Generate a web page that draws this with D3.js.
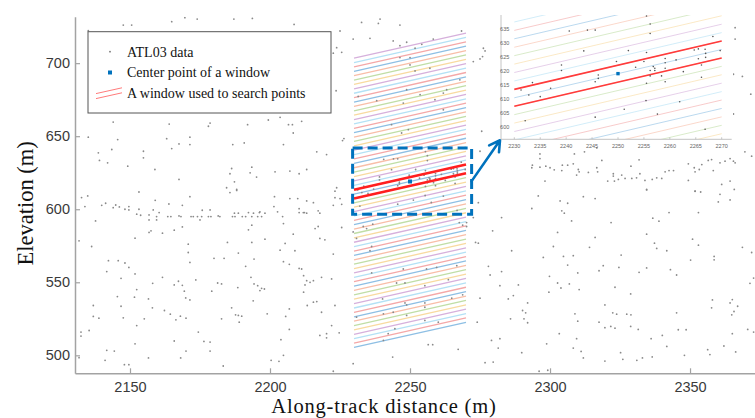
<!DOCTYPE html>
<html>
<head>
<meta charset="utf-8">
<script src="https://cdn.jsdelivr.net/npm/d3@7"></script>
<style>
  body { margin: 0; background: #fff; }
  svg { display: block; }
</style>
</head>
<body>
<div id="chart"></div>
<script>
// tick values
const xTicks = [2150, 2200, 2250, 2300, 2350];
const yTicks = [500, 550, 600, 650, 700];
const insetXTicks = [2230, 2235, 2240, 2245, 2250, 2255, 2260, 2265, 2270];
const insetYTicks = [600, 605, 610, 615, 620, 625, 630, 635];

const legendLabels = ['ATL03 data', 'Center point of a window', 'A window used to search points'];

// search window: center point, half height, slope and along-track extent
const windowCenter = [2250, 619];
const windowHalfHeight = 3;
const windowSlope = 0.43;
const windowExtent = [2230, 2270];
// elevation (at x = 2250) of every window boundary line
const windowLevels = [514, 517, 520, 523, 526, 529, 532, 535, 538, 541, 544, 547, 550, 553, 556, 559,
  562, 565, 568, 571, 574, 577, 580, 583, 586, 589, 592, 595, 598, 601, 604, 607, 610, 613, 616, 619,
  622, 625, 628, 631, 634, 637, 640, 643, 646, 649, 652, 655, 658, 661, 664, 667, 670, 673, 676, 679,
  682, 685, 688, 691, 694, 697, 700, 703, 706, 709, 712];

// zoomed area (dashed box)
const zoomBoxX = [2229.5, 2272];
const zoomBoxY = [596.5, 642];

// ATL03 photons [along-track distance, elevation]
const atl03Points = [
  [2147.6,726.1],[2150.6,726.1],[2164.9,728.4],[2169.6,731.1],[2174.0,730.2],[2187.1,730.2],[2193.7,730.6],
  [2208.6,726.5],[2135.1,722.2],[2144.0,659.7],[2164.0,658.3],[2178.6,659.0],[2178.0,656.8],[2192.0,657.9],
  [2199.4,661.1],[2203.6,662.9],[2206.6,657.9],[2208.0,657.9],[2211.3,660.2],[2208.3,652.2],[2135.1,649.3],
  [2145.6,647.7],[2163.1,648.3],[2171.4,649.3],[2171.4,644.3],[2167.5,644.7],[2164.9,641.5],[2186.7,644.3],
  [2190.8,645.4],[2204.8,644.3],[2138.7,638.6],[2143.5,640.9],[2154.8,639.7],[2154.8,635.2],[2139.1,633.4],
  [2142.0,631.8],[2149.2,629.5],[2158.9,627.2],[2186.3,627.9],[2193.5,628.8],[2192.9,624.9],[2195.2,622.0],
  [2185.7,624.3],[2201.8,625.6],[2207.1,626.1],[2210.4,624.3],[2167.5,620.4],[2187.3,618.8],[2184.5,614.7],
  [2188.1,613.6],
  [2132.7,608.0],[2134.9,609.1],[2133.9,601.8],[2139.9,602.7],[2141.3,604.1],[2144.0,601.1],[2144.9,602.9],
  [2146.2,601.6],[2148.2,600.0],[2149.6,601.8],[2149.6,599.5],[2153.2,611.8],[2153.2,600.0],[2152.4,596.6],
  [2153.8,595.9],[2156.8,596.1],[2156.8,592.7],[2158.3,599.5],[2159.5,595.0],[2159.5,592.7],[2160.4,597.7],
  [2159.0,606.1],[2163.5,595.0],[2164.6,595.0],[2163.9,603.6],[2167.5,595.4],[2168.2,595.0],[2168.7,602.7],
  [2171.8,595.0],[2172.6,595.0],[2171.4,608.6],[2174.1,595.0],[2175.6,595.0],[2175.0,592.7],[2175.8,599.3],
  [2178.0,595.0],[2178.9,595.0],[2178.6,599.5],[2181.5,595.4],[2182.1,595.0],[2185.7,611.4],[2188.1,612.9],
  [2186.6,595.0],[2187.5,595.0],[2187.3,597.3],[2188.7,597.3],[2190.1,595.0],[2191.3,595.0],[2192.3,597.7],
  [2193.5,595.0],[2194.1,597.3],[2195.6,595.0],[2196.2,597.7],[2197.0,595.0],[2198.2,597.3],[2196.4,598.2],
  [2201.6,608.6],[2201.4,601.8],[2202.7,598.2],[2204.5,595.0],[2204.8,590.2],[2207.1,607.3],[2209.9,607.3],
  [2210.4,600.4],[2210.4,597.7],[2212.3,597.7],[2137.7,592.0],[2168.7,587.9],[2165.8,585.7],[2161.6,583.6],
  [2156.8,584.1],[2157.5,585.2],[2192.3,585.9],[2193.5,589.1],[2131.8,578.4],[2151.8,580.2],[2170.8,576.1],
  [2170.8,570.4],[2171.4,563.6],[2136.3,574.5],[2184.8,577.3],[2188.7,570.0],[2193.5,577.3],[2198.2,579.5],
  [2208.3,582.9],[2203.6,572.0],[2205.4,576.6],[2208.9,571.6],[2142.3,564.8],[2145.8,564.8],[2148.2,563.2],
  [2149.6,560.2],[2141.7,557.3],[2151.8,555.7],[2146.8,552.7],[2161.6,553.4],[2158.1,549.3],[2165.8,548.2],
  [2167.3,550.7],[2168.7,547.9],[2169.4,543.9],[2169.9,539.3],[2171.4,537.9],[2173.5,551.6],[2179.2,543.9],
  [2180.0,566.4],[2183.6,566.4],[2181.3,549.5],[2182.7,548.9],[2191.3,560.9],[2194.3,565.9],[2193.2,553.4],
  [2194.3,548.9],[2195.6,547.7],[2196.4,544.3],[2197.0,545.9],[2198.0,545.4],[2188.5,546.4],[2194.0,537.3],
  [2204.8,564.1],[2206.9,562.3],[2210.4,559.5],[2212.0,554.5],[2212.0,543.2],[2145.5,540.2],[2152.4,545.0],
  [2151.6,539.8],[2136.9,534.1],[2146.8,533.6],[2156.6,538.6],[2158.0,532.5],[2162.3,530.7],[2164.4,528.2],
  [2166.4,524.3],[2168.0,526.8],[2170.0,525.4],[2136.9,526.6],[2138.9,525.4],[2147.6,525.7],[2155.1,525.0],
  [2152.4,520.4],[2186.3,532.5],[2187.7,527.7],[2188.7,527.3],[2189.9,526.8],[2189.0,522.7],[2182.7,525.0],
  [2199.0,528.4],[2205.6,526.6],[2206.9,531.8],[2206.9,517.7],[2132.5,515.9],[2132.5,513.2],[2135.4,517.0],
  [2174.4,515.9],[2176.4,509.5],[2178.6,509.1],[2178.6,502.9],[2165.8,509.8],[2170.0,502.9],[2151.8,507.9],
  [2141.7,503.4],[2144.4,502.9],[2131.8,498.4],[2141.1,496.6],[2148.0,493.6],[2149.6,493.6],[2156.6,498.2],
  [2168.1,498.2],[2183.3,492.7],[2200.4,496.6],[2203.9,510.7],[2204.8,500.0],[2203.2,495.9],
  [2232.7,727.9],[2239.3,730.2],[2238.7,727.2],[2246.4,726.1],[2225.0,722.0],[2223.8,710.6],[2222.6,706.8],
  [2225.6,707.4],[2229.7,716.5],[2235.7,717.0],[2244.0,715.2],[2246.4,712.0],[2248.8,714.3],[2251.8,710.2],
  [2254.2,712.9],[2268.4,722.0],[2258.3,716.5],[2276.2,710.2],[2276.8,708.4],[2275.9,704.5],[2275.0,702.9],
  [2272.6,701.1],[2223.6,681.1],[2225.9,647.0],[2226.4,648.4],[2216.7,639.3],[2220.2,637.4],[2213.1,627.2],
  [2223.8,614.7],[2223.2,612.4],[2275.6,653.4],[2275.0,639.7],[2246.4,703.8],[2250.0,703.8],[2250.0,698.8],
  [2251.8,694.7],[2257.1,696.5],[2267.8,688.6],[2248.8,681.8],[2253.6,678.4],[2261.9,679.5],[2263.1,681.8],
  [2258.9,675.0],[2247.6,672.7],[2238.1,674.3],[2261.9,668.1],[2243.4,657.9],[2249.4,654.5],[2247.0,652.2],
  [2231.5,677.2],
  [2213.1,605.7],[2215.5,604.5],[2211.9,597.7],[2213.1,597.3],[2217.2,598.9],[2217.8,597.3],[2222.6,602.7],
  [2223.2,607.9],[2225.0,607.3],[2225.6,603.4],[2216.1,586.8],[2217.2,588.2],[2217.8,580.0],[2219.6,579.1],
  [2225.6,587.5],[2222.6,569.3],[2211.3,559.1],[2213.1,551.1],[2214.3,550.0],[2215.5,551.1],[2218.4,553.4],
  [2222.0,552.3],[2212.5,548.2],[2215.5,536.4],[2216.7,536.8],[2213.3,534.1],[2223.2,534.1],[2218.4,529.5],
  [2222.0,520.4],[2217.8,513.6],[2220.2,514.8],[2220.2,512.0],[2224.7,515.4],[2229.7,494.3],[2229.7,584.5],
  [2233.3,588.2],[2234.5,586.8],[2236.7,589.8],[2230.9,580.0],[2236.3,574.5],[2235.7,571.6],[2247.6,559.1],
  [2255.9,559.1],[2259.5,560.2],[2266.7,561.4],[2236.3,556.4],[2245.2,549.5],[2248.2,549.5],[2255.3,547.7],
  [2263.7,551.8],[2240.2,538.6],[2248.2,535.9],[2248.8,534.5],[2255.3,535.9],[2264.9,539.1],[2268.8,541.4],
  [2240.5,528.4],[2244.0,529.5],[2248.8,527.3],[2255.3,532.9],[2255.3,523.9],[2260.1,522.7],[2230.9,526.1],
  [2244.6,518.2],[2242.2,514.8],[2240.5,510.2],[2267.6,590.9],[2268.8,589.1],[2274.4,604.5],[2272.6,594.3],
  [2270.2,590.9],[2270.2,588.2],[2273.4,577.3],[2274.4,576.8],[2282.7,594.3],[2279.5,585.2],[2286.3,571.6],
  [2278.0,560.9],[2282.7,557.3],[2278.6,555.0],[2288.7,548.2],[2282.1,547.7],[2286.9,540.9],[2285.1,538.6],
  [2275.0,539.1],[2290.2,530.7],[2285.9,525.0],[2290.7,525.0],[2274.0,522.7],[2279.1,510.2],[2282.1,511.4],
  [2256.5,507.3],[2258.1,507.3],[2267.2,504.1],[2279.7,495.4],[2276.8,495.0],[2289.9,501.8],[2281.5,505.0],
  [2243.8,498.8],[2222.6,489.1],
  [2366.1,724.3],[2366.1,716.5],[2365.5,692.4],[2368.7,690.9],[2371.7,678.8],[2365.5,665.2],[2296.4,637.9],
  [2296.4,634.7],[2293.7,630.2],[2293.5,628.4],[2296.4,628.8],[2298.5,629.5],[2300.0,628.4],[2301.5,627.0],
  [2304.4,630.2],[2304.2,626.5],[2306.3,630.2],[2308.3,631.1],[2308.7,637.9],[2310.1,627.2],[2310.4,625.6],
  [2309.5,623.4],[2312.3,639.3],[2313.7,625.2],[2316.7,642.0],[2316.7,628.4],[2317.0,625.6],[2318.5,633.4],
  [2320.6,619.3],[2322.6,624.3],[2322.6,622.7],[2323.0,619.3],[2324.4,620.4],[2325.6,623.4],[2326.8,621.1],
  [2328.9,629.5],[2331.8,633.8],[2329.2,621.1],[2330.9,621.5],[2332.1,624.3],[2333.9,619.7],[2334.5,613.6],
  [2336.5,620.4],[2338.1,621.5],[2339.9,621.1],[2341.1,625.6],[2342.5,626.5],[2344.1,626.5],[2349.4,631.1],
  [2349.4,619.7],[2351.5,628.4],[2351.8,625.6],[2353.3,627.2],[2354.2,630.6],[2356.5,633.4],[2357.7,634.0],
  [2358.3,626.5],[2360.7,631.8],[2362.5,632.9],[2364.3,634.7],[2365.5,632.9],[2366.1,631.8],[2369.6,639.3],
  [2372.0,636.3],[2351.8,612.4],[2361.3,617.0],[2364.3,619.3],[2365.8,613.6],[2298.2,619.3],
  [2295.8,609.1],[2293.5,600.5],[2303.6,605.7],[2306.3,604.1],[2304.2,598.9],[2305.1,597.3],[2307.7,592.0],
  [2311.9,608.6],[2316.1,607.3],[2302.7,584.1],[2301.2,574.5],[2297.6,567.0],[2304.8,567.7],[2308.3,568.2],
  [2306.3,561.8],[2309.9,556.4],[2299.8,554.1],[2302.7,549.5],[2303.9,546.1],[2306.9,548.9],[2310.4,545.0],
  [2299.6,543.2],[2314.1,573.9],[2316.1,580.7],[2321.8,590.9],[2325.4,568.6],[2324.6,560.2],[2319.0,561.4],
  [2317.5,557.9],[2323.2,546.6],[2328.8,542.0],[2319.6,534.5],[2292.0,535.9],[2291.3,529.1],[2292.0,522.3],
  [2308.9,528.4],[2309.9,523.4],[2303.3,514.8],[2309.5,511.4],[2308.3,505.0],[2311.1,502.7],[2311.9,498.2],
  [2298.8,507.9],[2317.5,522.7],[2319.6,518.9],[2321.7,519.8],[2323.2,518.6],[2322.4,529.1],[2323.8,528.2],
  [2327.4,528.2],[2328.9,527.7],[2328.8,519.8],[2331.5,517.7],[2331.8,556.8],[2334.5,559.8],[2334.5,582.9],
  [2337.3,576.8],[2338.1,573.2],[2341.7,571.6],[2336.7,593.9],[2338.9,591.8],[2342.5,597.7],[2334.5,613.2],
  [2343.0,558.6],[2345.2,555.0],[2345.2,529.1],[2345.8,517.5],[2348.6,517.5],[2340.1,513.6],[2336.1,511.4],
  [2341.7,506.1],[2325.2,501.8],[2326.0,497.3],[2319.6,496.1],[2331.0,496.6],[2333.0,498.2],[2336.5,498.9],
  [2348.0,500.0],[2350.2,565.2],[2350.9,579.5],[2353.0,575.4],[2353.0,597.7],[2351.8,612.3],[2353.8,611.8],
  [2360.7,610.2],[2360.1,605.0],[2364.3,606.4],[2358.6,567.7],[2358.6,565.4],[2368.7,573.9],[2372.0,570.4],
  [2372.7,552.9],[2371.4,549.3],[2358.0,537.9],[2357.7,532.5],[2364.3,535.9],[2365.1,538.2],[2367.0,533.6],
  [2365.7,530.0],[2364.9,527.7],[2365.1,514.8],[2370.6,517.7],[2372.7,515.9],[2362.1,506.4],[2356.3,503.9],
  [2357.1,500.5],[2366.3,502.3],[2296.1,489.1],[2299.2,489.8],
  // photons inside the zoomed window
  [2255.5,639.5],[2256.2,636.7],[2256.2,633.3],[2240.6,634.2],[2244.1,634.5],[2245.6,634.5],[2243.4,627.1],
  [2252.0,627.2],[2249.7,623.3],[2255.5,626.5],[2268.3,632.2],[2266.8,627.7],[2265.5,627.8],[2264.7,627.4],
  [2266.9,626.2],[2266.9,624.8],[2266.1,622.1],[2265.5,624.3],[2261.2,623.9],[2259.1,624.4],[2259.1,622.9],
  [2259.1,620.9],[2257.1,620.9],[2256.8,621.5],[2257.1,620.1],[2255.0,623.3],[2253.4,621.3],[2256.2,620.1],
  [2256.2,618.2],[2258.4,618.2],[2259.1,616.1],[2255.5,615.6],[2262.6,619.7],[2239.1,622.1],[2239.1,620.1],
  [2246.2,618.5],[2246.2,617.3],[2245.6,616.1],[2237.0,613.8],[2233.5,615.8],[2231.3,613.2],[2232.8,611.4],
  [2235.0,610.8],[2232.1,602.2],[2245.6,603.5],[2251.2,606.3],[2255.4,609.4],[2257.6,604.6],[2261.9,609.0],
  [2266.1,617.7],[2266.8,599.2],[2269.7,627.2]
];

const lineColors = ['#8ebfe4', '#f4a8a8', '#b4e1f5', '#d6b0dc', '#f8daa0', '#c0dea6', '#f8bea8'];

const width = 755, height = 418;
const svg = d3.select('#chart').append('svg').attr('width', width).attr('height', height);

const x = d3.scaleLinear().domain([2130.36, 2373.2]).range([75, 755]);
const y = d3.scaleLinear().domain([487.7, 731.8]).range([373.3, 16.7]);

svg.append('clipPath').attr('id', 'plot-clip')
  .append('rect').attr('x', 75).attr('y', 16.7).attr('width', 680).attr('height', 356.6);

// end points of one window boundary line
const boundary = (level) => windowExtent.map(d => [d, level + windowSlope * (d - windowCenter[0])]);
const redLevels = [windowCenter[1] + windowHalfHeight, windowCenter[1] - windowHalfHeight];

const plot = svg.append('g').attr('clip-path', 'url(#plot-clip)');

const mainLine = d3.line().x(d => x(d[0])).y(d => y(d[1]));

plot.selectAll('.stripe')
  .data(windowLevels)
  .join('path')
  .attr('class', 'stripe')
  .attr('d', d => mainLine(boundary(d)))
  .attr('stroke', (d, i) => lineColors[i % lineColors.length])
  .attr('stroke-width', 1.3)
  .attr('fill', 'none');

plot.selectAll('.photon')
  .data(atl03Points)
  .join('circle')
  .attr('class', 'photon')
  .attr('cx', d => x(d[0]))
  .attr('cy', d => y(d[1]))
  .attr('r', 0.9)
  .attr('fill', '#8a8a8a');

plot.selectAll('.red-window')
  .data(redLevels)
  .join('path')
  .attr('class', 'red-window')
  .attr('d', d => mainLine(boundary(d)))
  .attr('stroke', '#ff1f1f')
  .attr('stroke-width', 2.6)
  .attr('fill', 'none');

plot.append('rect')
  .attr('x', x(windowCenter[0]) - 2).attr('y', y(windowCenter[1]) - 2)
  .attr('width', 4).attr('height', 4)
  .attr('fill', '#0072BD');

// dashed box around the zoomed window
svg.append('rect')
  .attr('x', x(zoomBoxX[0])).attr('y', y(zoomBoxY[1]))
  .attr('width', x(zoomBoxX[1]) - x(zoomBoxX[0]))
  .attr('height', y(zoomBoxY[0]) - y(zoomBoxY[1]))
  .attr('fill', 'none')
  .attr('stroke', '#0072BD')
  .attr('stroke-width', 3)
  .attr('stroke-dasharray', '10,5');

// axes
const xAxis = svg.append('g')
  .attr('transform', 'translate(0,373.3)')
  .call(d3.axisBottom(x).tickValues(xTicks).tickFormat(d3.format('d'))
    .tickSizeInner(-5).tickSizeOuter(0).tickPadding(8.5));
const yAxis = svg.append('g')
  .attr('transform', 'translate(75,0)')
  .call(d3.axisLeft(y).tickValues(yTicks).tickFormat(d3.format('d'))
    .tickSizeInner(-5).tickSizeOuter(0).tickPadding(5));

[xAxis, yAxis].forEach(g => {
  g.select('.domain').attr('stroke', '#a3a3a3').attr('stroke-width', 1.5);
  g.selectAll('.tick line').attr('stroke', '#a3a3a3').attr('stroke-width', 1.2);
  g.selectAll('.tick text')
    .attr('fill', '#3a3a3a')
    .style('font-family', '"Liberation Sans", Arial, sans-serif')
    .style('font-size', '14.5px');
});

svg.append('text')
  .attr('x', 384).attr('y', 413.2)
  .attr('text-anchor', 'middle')
  .style('font-family', '"Liberation Serif", "Times New Roman", serif')
  .style('font-size', '20.5px')
  .style('letter-spacing', '0.8px')
  .attr('fill', '#111')
  .text('Along-track distance (m)');

svg.append('text')
  .attr('transform', 'translate(33,203.4) rotate(-90)')
  .attr('text-anchor', 'middle')
  .style('font-family', '"Liberation Serif", "Times New Roman", serif')
  .style('font-size', '22.5px')
  .attr('fill', '#111')
  .text('Elevation (m)');

// legend
const legend = svg.append('g');
legend.append('rect')
  .attr('x', 88).attr('y', 31.7).attr('width', 243).attr('height', 81.3)
  .attr('fill', '#fff').attr('stroke', '#555').attr('stroke-width', 1);

const legendY = [51.7, 72.5, 93.3];
legend.selectAll('.legend-label')
  .data(legendLabels)
  .join('text')
  .attr('class', 'legend-label')
  .attr('x', 127)
  .attr('y', (d, i) => legendY[i])
  .attr('dy', '0.35em')
  .style('font-family', '"Liberation Serif", "Times New Roman", serif')
  .style('font-size', '14px')
  .attr('fill', '#111')
  .text(d => d);

legend.append('circle').attr('cx', 110).attr('cy', legendY[0]).attr('r', 0.9).attr('fill', '#777');
legend.append('rect').attr('x', 108).attr('y', legendY[1] - 2).attr('width', 4).attr('height', 4).attr('fill', '#0072BD');
[-2.6, 2.4].forEach(off => {
  legend.append('line')
    .attr('x1', 96).attr('y1', legendY[2] + off + 2.9)
    .attr('x2', 122).attr('y2', legendY[2] + off - 2.9)
    .attr('stroke', '#ff7b7b').attr('stroke-width', 1);
});

// inset: zoomed view of the window
const inset = { left: 501, right: 731.7, top: 15, bottom: 139.3 };
const ix = d3.scaleLinear().domain([2230, 2270]).range([514.3, 721.7]);
const iy = d3.scaleLinear().domain([600, 635]).range([127, 28.7]);
const insetLine = d3.line().x(d => ix(d[0])).y(d => iy(d[1]));

const insetG = svg.append('g');
insetG.append('rect')
  .attr('x', 497).attr('y', 8).attr('width', 236).attr('height', inset.bottom - 8)
  .attr('fill', '#fff');

svg.append('clipPath').attr('id', 'inset-clip')
  .append('rect')
  .attr('x', ix(windowExtent[0]) - 1).attr('y', inset.top)
  .attr('width', ix(windowExtent[1]) - ix(windowExtent[0]) + 2)
  .attr('height', inset.bottom - inset.top);

const insetPlot = insetG.append('g').attr('clip-path', 'url(#inset-clip)');
insetPlot.selectAll('.istripe')
  .data(windowLevels)
  .join('path')
  .attr('class', 'istripe')
  .attr('d', d => insetLine(boundary(d)))
  .attr('stroke', (d, i) => lineColors[i % lineColors.length])
  .attr('stroke-opacity', 0.6)
  .attr('stroke-width', 1)
  .attr('fill', 'none');

insetPlot.selectAll('.ired')
  .data(redLevels)
  .join('path')
  .attr('class', 'ired')
  .attr('d', d => insetLine(boundary(d)))
  .attr('stroke', '#ff3b3b')
  .attr('stroke-width', 1.6)
  .attr('fill', 'none');

const insetDots = atl03Points.filter(d => {
  const px = ix(d[0]), py = iy(d[1]);
  return px > inset.left + 2 && px < inset.right && py > inset.top && py < inset.bottom - 1;
});
insetG.selectAll('.iphoton')
  .data(insetDots)
  .join('circle')
  .attr('class', 'iphoton')
  .attr('cx', d => ix(d[0]))
  .attr('cy', d => iy(d[1]))
  .attr('r', 0.8)
  .attr('fill', '#555');

insetG.append('rect')
  .attr('x', ix(windowCenter[0]) - 1.7).attr('y', iy(windowCenter[1]) - 1.7)
  .attr('width', 3.4).attr('height', 3.4)
  .attr('fill', '#0072BD');

insetG.append('path')
  .attr('d', `M${inset.left},${inset.top}V${inset.bottom}H${inset.right}`)
  .attr('fill', 'none').attr('stroke', '#c4c4c4').attr('stroke-width', 1);

insetG.selectAll('.ixtick')
  .data(insetXTicks)
  .join('line')
  .attr('class', 'ixtick')
  .attr('x1', d => ix(d)).attr('x2', d => ix(d))
  .attr('y1', inset.bottom).attr('y2', inset.bottom - 2)
  .attr('stroke', '#c4c4c4');

const tickFont = sel => sel
  .style('font-family', '"Liberation Sans", Arial, sans-serif')
  .style('font-size', '5.5px')
  .attr('fill', '#666');

insetG.selectAll('.ixlabel')
  .data(insetXTicks)
  .join('text')
  .attr('class', 'ixlabel')
  .attr('x', d => ix(d)).attr('y', inset.bottom + 8.5)
  .attr('text-anchor', 'middle')
  .call(tickFont)
  .text(d => d);

insetG.selectAll('.iylabel')
  .data(insetYTicks)
  .join('text')
  .attr('class', 'iylabel')
  .attr('x', 509.3).attr('y', d => iy(d))
  .attr('dy', '0.35em')
  .attr('text-anchor', 'end')
  .call(tickFont)
  .text(d => d);

// arrow from the dashed box to the inset
const a0 = [x(zoomBoxX[1]), y((zoomBoxY[0] + zoomBoxY[1]) / 2)];
const a1 = [inset.left - 1, inset.bottom + 1];
const ang = Math.atan2(a1[1] - a0[1], a1[0] - a0[0]);
const head = 12, spread = Math.PI / 6;
const h1 = [a1[0] - head * Math.cos(ang - spread), a1[1] - head * Math.sin(ang - spread)];
const h2 = [a1[0] - head * Math.cos(ang + spread), a1[1] - head * Math.sin(ang + spread)];
svg.append('path')
  .attr('d', `M${a0}L${a1}M${h1}L${a1}L${h2}`)
  .attr('fill', 'none')
  .attr('stroke', '#0072BD')
  .attr('stroke-width', 2.6)
  .attr('stroke-linecap', 'round')
  .attr('stroke-linejoin', 'round');
</script>
</body>
</html>
